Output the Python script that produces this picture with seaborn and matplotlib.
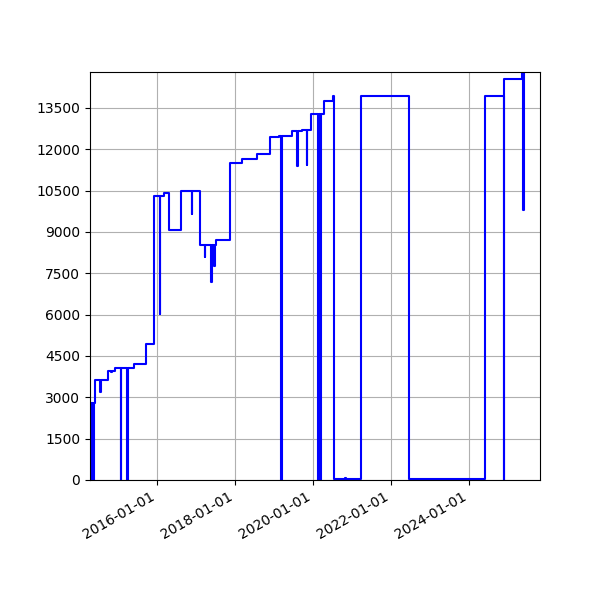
import pandas as pd
import seaborn as sns
import matplotlib
matplotlib.use("Agg")
import matplotlib.pyplot as plt
import matplotlib.dates as mdates
from matplotlib.ticker import MultipleLocator

# step series (value holds until next date)
dates = [
    "2014-04-18", "2014-04-22", "2014-05-11", "2014-05-22", "2014-06-02",
    "2014-07-14", "2014-07-20", "2014-09-23", "2014-10-30", "2014-11-05",
    "2014-11-30", "2015-01-25", "2015-01-30", "2015-03-29", "2015-04-03",
    "2015-05-27", "2015-09-23", "2015-12-04", "2016-01-26", "2016-01-30",
    "2016-03-06", "2016-04-19", "2016-08-07", "2016-11-18", "2016-11-23",
    "2017-02-10", "2017-03-23", "2017-03-28", "2017-05-21", "2017-05-25",
    "2017-06-18", "2017-06-22", "2017-07-10", "2017-11-12", "2018-03-02",
    "2018-07-20", "2018-11-28", "2019-02-17", "2019-03-08", "2019-03-12",
    "2019-06-13", "2019-08-08", "2019-08-12", "2019-09-15", "2019-11-01",
    "2019-11-05", "2019-12-08", "2020-02-19", "2020-02-23", "2020-03-08",
    "2020-03-12", "2020-04-14", "2020-07-02", "2020-07-14", "2020-10-29",
    "2020-11-03", "2021-03-21", "2022-06-14", "2024-05-29", "2024-11-24",
    "2024-11-28", "2025-05-08", "2025-05-21", "2025-05-27",
]
values = [
    0, 2780, 0, 2780, 3630,
    3195, 3630, 3955, 3900, 3955,
    4065, 0, 4065, 0, 4065,
    4210, 4950, 10320, 6015, 10320,
    10395, 9075, 10490, 9645, 10490,
    8530, 8085, 8530, 7200, 8530,
    7780, 8530, 8710, 11490, 11640,
    11830, 12440, 12480, 0, 12480,
    12670, 11375, 12670, 12700, 11410,
    12700, 13260, 0, 13260, 0,
    13260, 13760, 13915, 25, 70,
    25, 13940, 35, 13930, 0,
    14545, 14800, 9800, 14800,
]

df = pd.DataFrame({"date": pd.to_datetime(dates), "value": values})

fig, ax = plt.subplots(figsize=(6, 6), dpi=100)
sns.lineplot(data=df, x="date", y="value", ax=ax, color="blue",
             linewidth=1.5, drawstyle="steps-post", estimator=None)

ax.set_xlim(pd.Timestamp("2014-04-12"), pd.Timestamp("2025-10-27"))
ax.set_ylim(0, 14800)
ax.yaxis.set_major_locator(MultipleLocator(1500))
ax.xaxis.set_major_locator(mdates.YearLocator(2))
ax.xaxis.set_major_formatter(mdates.DateFormatter("%Y-%m-%d"))
ax.set_xlabel("")
ax.set_ylabel("")
ax.grid(True)
fig.autofmt_xdate()
fig.subplots_adjust(left=0.15, right=0.9, top=0.88, bottom=0.2)

plt.savefig("out.png", dpi=100)
